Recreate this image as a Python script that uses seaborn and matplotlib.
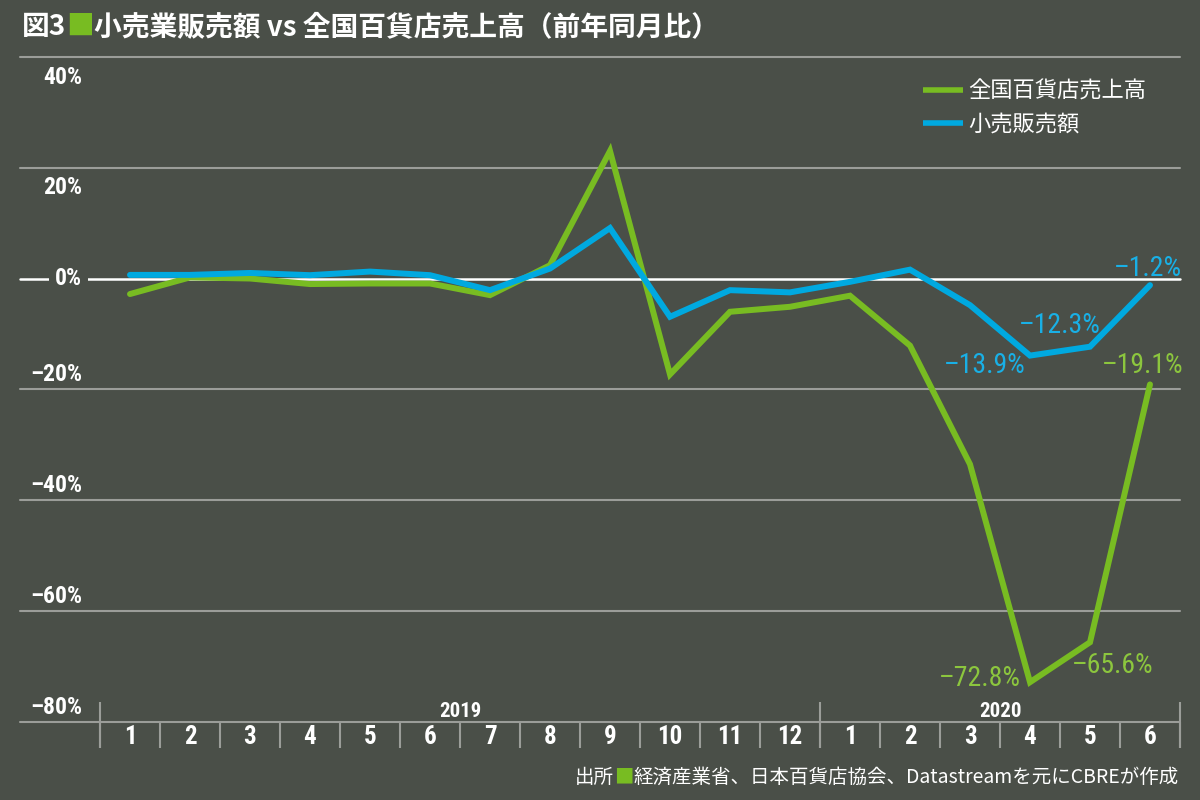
import os
import numpy as np
import pandas as pd
import matplotlib
matplotlib.use('Agg')
import matplotlib.pyplot as plt
import seaborn as sns
from matplotlib import font_manager
from matplotlib.font_manager import FontProperties

# ==========================================
# データ（前年同月比, %）
# ==========================================
months = ['1', '2', '3', '4', '5', '6', '7', '8', '9', '10', '11', '12',
          '1', '2', '3', '4', '5', '6']
years = ['2019', '2020']
year_lengths = [12, 6]
dept_store = [-2.8, 0.2, 0.0, -1.0, -0.9, -0.9, -3.0, 2.4, 23.0, -17.3, -6.0, -5.1,
              -3.1, -12.1, -33.5, -72.8, -65.6, -19.1]
retail = [0.65, 0.65, 1.0, 0.6, 1.25, 0.6, -2.1, 1.8, 9.1, -6.9, -2.1, -2.5,
          -0.6, 1.6, -4.8, -13.9, -12.3, -1.2]
series_names = ['全国百貨店売上高', '小売販売額']
y_ticks = [40, 20, 0, -20, -40, -60, -80]

# 注記ラベル（月インデックス, オフセットpx）
labels_dept = [(15, (-50, 4)), (16, (23, -23)), (17, (-7, 19))]
labels_retail = [(15, (-45, -10)), (16, (-30, 21)), (17, (-2, 17))]

# ==========================================
# 色・フォント
# ==========================================
BG = '#4a4f48'
GREEN = '#78bc22'
GREEN_TXT = '#8cc63e'
BLUE = '#00a9e0'
BLUE_TXT = '#19b0e6'
GRID = '#9b9d99'
W, H = 1200, 800
DASH = '–'

sns.set_theme(style='dark')
plt.rcParams['font.family'] = ['Noto Sans CJK JP', 'DejaVu Sans']

files = sorted({f.fname for f in font_manager.fontManager.ttflist})


def pick_condensed(want_bold):
    for pref in ['Roboto', 'Liberation', 'NotoSans', 'OpenSans', 'DejaVu']:
        for fn in files:
            b = os.path.basename(fn).replace(' ', '')
            if not b.startswith(pref):
                continue
            if 'Condensed' not in b and 'Narrow' not in b:
                continue
            if any(k in b for k in ['Italic', 'Oblique', 'Light', 'Thin', 'Black',
                                     'Semi', 'Extra', 'Medium']):
                continue
            if ('Bold' in b) == want_bold:
                return fn
    return None


cond_reg = pick_condensed(False)
cond_bold = pick_condensed(True) or cond_reg


def numfont(size, bold=False):
    fn = cond_bold if bold else cond_reg
    if fn:
        return FontProperties(fname=fn, size=size)
    return FontProperties(family='DejaVu Sans', size=size * 0.8,
                          weight='bold' if bold else 'normal')


# ==========================================
# 描画
# ==========================================
df = pd.DataFrame({
    'idx': list(range(len(months))) * 2,
    'value': dept_store + retail,
    'series': [series_names[0]] * len(months) + [series_names[1]] * len(months),
})

fig = plt.figure(figsize=(12, 8), dpi=100, facecolor=BG)
ax = fig.add_axes([20 / W, 1 - 760 / H, 1160 / W, (760 - 56.7) / H])
ax.set_facecolor(BG)
ax.set_xlim((20 - 130) / 60, 17.5)
ax.set_ylim(-86.83, 40)

# グリッド線
for v in y_ticks:
    if v == 0:
        ax.axhline(0, color='white', lw=1.8, zorder=1, clip_on=False)
    else:
        ax.axhline(v, color=GRID, lw=1.5, zorder=1, clip_on=False)

sns.lineplot(data=df, x='idx', y='value', hue='series', hue_order=series_names,
             palette=[GREEN, BLUE], linewidth=4.3, ax=ax, zorder=3,
             solid_joinstyle='miter', solid_capstyle='round')

# y軸ラベル
for v in y_ticks:
    lbl = (DASH if v < 0 else '') + f'{abs(v)}%'
    if v > 0:
        ax.text(-0.8, v - 1.6, lbl, ha='right', va='top', color='white',
                fontproperties=numfont(17, True))
    elif v == 0:
        ax.text(-0.8, v, lbl, ha='right', va='center', color='white',
                fontproperties=numfont(17, True),
                bbox=dict(facecolor=BG, edgecolor='none', pad=4))
    else:
        ax.text(-0.8, v + 0.6, lbl, ha='right', va='bottom', color='white',
                fontproperties=numfont(17, True))

# x軸（月・年）
n = len(months)
ax.vlines(np.arange(n + 1) - 0.5, -84.62, -80, color=GRID, lw=1.5, clip_on=False)
edges = np.concatenate([[0], np.cumsum(year_lengths)]) - 0.5
ax.vlines(edges, -84.62, -76.37, color=GRID, lw=1.5, clip_on=False)
for i, m in enumerate(months):
    ax.text(i, -82.6, m, ha='center', va='center', color='white',
            fontproperties=numfont(18, True))
for y, a, b in zip(years, edges[:-1], edges[1:]):
    ax.text((a + b) / 2, -78.1, y, ha='center', va='center', color='white',
            fontproperties=numfont(15, True))

# 注記
for i, (dx, dy) in labels_dept:
    v = dept_store[i]
    ax.annotate(f'{DASH}{abs(v):.1f}%', (i, v), xytext=(dx * 0.72, dy * 0.72),
                textcoords='offset points', ha='center', va='center',
                color=GREEN_TXT, fontproperties=numfont(20))
for i, (dx, dy) in labels_retail:
    v = retail[i]
    ax.annotate(f'{DASH}{abs(v):.1f}%', (i, v), xytext=(dx * 0.72, dy * 0.72),
                textcoords='offset points', ha='center', va='center',
                color=BLUE_TXT, fontproperties=numfont(20))

ax.set_xticks([])
ax.set_yticks([])
ax.set_xlabel('')
ax.set_ylabel('')
for s in ax.spines.values():
    s.set_visible(False)

# 凡例
handles, labels = ax.get_legend_handles_labels()
leg = ax.legend(handles, labels, loc='upper left',
                bbox_to_anchor=(923 / W, 1 - 80 / H), bbox_transform=fig.transFigure,
                frameon=False, fontsize=16, handlelength=1.8, handletextpad=0.25,
                labelspacing=0.45, borderpad=0, borderaxespad=0)
for t in leg.get_texts():
    t.set_color('white')
for h in leg.get_lines():
    h.set_linewidth(4.0)
    h.set_solid_capstyle('butt')

# タイトル・出所（色付きの■を含むため分割して配置）
renderer = fig.canvas.get_renderer()


def draw_pieces(x_px, y_px, pieces, size, align='left', weight='normal'):
    placed = []
    cur = x_px
    for s, c in pieces:
        t = fig.text(cur / W, 1 - y_px / H, s, color=c, fontsize=size,
                     ha='left', va='center', fontweight=weight)
        w = t.get_window_extent(renderer=renderer).width
        placed.append((t, cur))
        cur += w
    if align == 'right':
        shift = x_px - cur
        for t, x0 in placed:
            t.set_x((x0 + shift) / W)


draw_pieces(22, 27, [('図3', 'white'), ('■', GREEN),
                     ('小売業販売額 vs 全国百貨店売上高（前年同月比）', 'white')],
            20, weight='bold')
draw_pieces(1179, 777, [('出所', 'white'), ('■', GREEN),
                        ('経済産業省、日本百貨店協会、Datastreamを元にCBREが作成', 'white')],
            14, align='right')

fig.savefig('out.png', dpi=100, facecolor=BG)
